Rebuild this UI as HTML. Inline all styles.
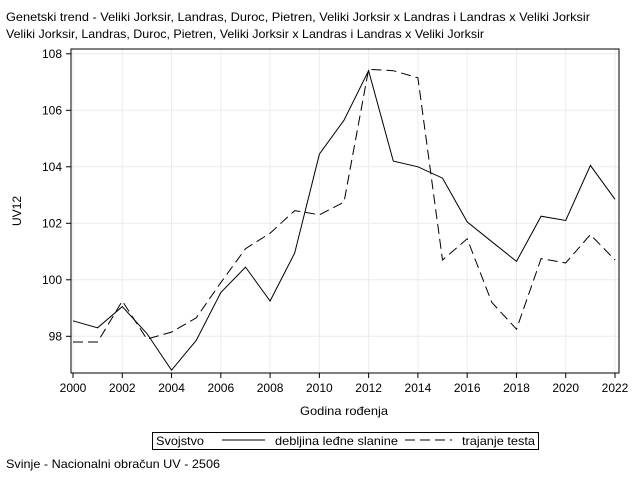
<!DOCTYPE html>
<html><head><meta charset="utf-8"><style>
body{margin:0;background:#fff;}
svg{display:block;font-family:"Liberation Sans",Arial,sans-serif;}
</style></head><body>
<svg id="c" width="640" height="480" xmlns="http://www.w3.org/2000/svg">
<rect width="640" height="480" fill="#fff"/>
<text x="6" y="21" font-size="12" textLength="584" lengthAdjust="spacingAndGlyphs" fill="#000">Genetski trend - Veliki Jorksir, Landras, Duroc, Pietren, Veliki Jorksir x Landras i Landras x Veliki Jorksir</text>
<text x="6" y="38" font-size="12" textLength="478" lengthAdjust="spacingAndGlyphs" fill="#000">Veliki Jorksir, Landras, Duroc, Pietren, Veliki Jorksir x Landras i Landras x Veliki Jorksir</text>
<g id="grid"></g>
<g id="axes"></g>
<g id="series"></g>
<rect x="71" y="49" width="548" height="324" fill="none" stroke="#000" stroke-width="1"/>
<text x="300" y="415" font-size="12" textLength="88" lengthAdjust="spacingAndGlyphs">Godina rođenja</text>
<text x="0" y="0" font-size="12" text-anchor="middle" transform="translate(21,211) rotate(-90)">UV12</text>
<g>
<rect x="152.5" y="432.5" width="386" height="17" fill="none" stroke="#000"/>
<text x="156" y="445" font-size="12" textLength="48" lengthAdjust="spacingAndGlyphs">Svojstvo</text>
<line x1="222" y1="440" x2="265" y2="440" stroke="#000"/>
<text x="275" y="445" font-size="12" textLength="123" lengthAdjust="spacingAndGlyphs">debljina leđne slanine</text>
<line x1="405" y1="440" x2="452" y2="440" stroke="#000" stroke-dasharray="10,5"/>
<text x="462" y="445" font-size="12" textLength="73" lengthAdjust="spacingAndGlyphs">trajanje testa</text>
</g>
<text x="6" y="468" font-size="12" textLength="214" lengthAdjust="spacingAndGlyphs">Svinje - Nacionalni obračun UV - 2506</text>
</svg>
<script>
const years=[2000,2001,2002,2003,2004,2005,2006,2007,2008,2009,2010,2011,2012,2013,2014,2015,2016,2017,2018,2019,2020,2021,2022];
const debljina=[98.55,98.3,99.05,98.1,96.8,97.85,99.55,100.45,99.25,100.95,104.45,105.65,107.4,104.2,104.0,103.6,102.05,101.35,100.65,102.25,102.1,104.05,102.85];
const trajanje=[97.8,97.8,99.25,97.9,98.15,98.65,99.9,101.1,101.65,102.45,102.3,102.75,107.45,107.4,107.15,100.7,101.45,99.2,98.25,100.75,100.6,101.6,100.7];
const xTicks=[2000,2002,2004,2006,2008,2010,2012,2014,2016,2018,2020,2022];
const yTicks=[98,100,102,104,106,108];
const NS="http://www.w3.org/2000/svg";
function X(v){return 73+(v-2000)*(615-73)/22;}
function Y(v){return 336.3-(v-98)*28.25;}
function mk(t,a,p){const e=document.createElementNS(NS,t);for(const k in a)e.setAttribute(k,a[k]);document.getElementById(p).appendChild(e);return e;}
xTicks.forEach(t=>{
 const g=mk('line',{x1:X(t),x2:X(t),y1:49,y2:373,stroke:'#ebebeb'},'grid');
 
 
 const tk=mk('line',{x1:X(t),x2:X(t),y1:373,y2:378,stroke:'#000'},'axes');
 
 
 const tx=mk('text',{x:X(t),y:392,'font-size':12,'text-anchor':'middle'},'axes');
 tx.textContent=t;
 
 
});
yTicks.forEach(t=>{
 const g=mk('line',{x1:71,x2:619,y1:Y(t),y2:Y(t),stroke:'#ebebeb'},'grid');
 
 
 const tk=mk('line',{x1:66,x2:71,y1:Y(t),y2:Y(t),stroke:'#000'},'axes');
 
 
 const tx=mk('text',{x:62,y:Y(t)+4,'font-size':12,'text-anchor':'end'},'axes');
 tx.textContent=t;
 
 
});
function pts(arr){return arr.map((v,i)=>X(years[i]).toFixed(1)+','+Y(v).toFixed(1)).join(' ');}
const l1=mk('polyline',{points:pts(debljina),fill:'none',stroke:'#000','stroke-width':1},'series');


const l2=mk('polyline',{points:pts(trajanje),fill:'none',stroke:'#000','stroke-width':1,'stroke-dasharray':'10,5'},'series');


</script>
</body></html>
